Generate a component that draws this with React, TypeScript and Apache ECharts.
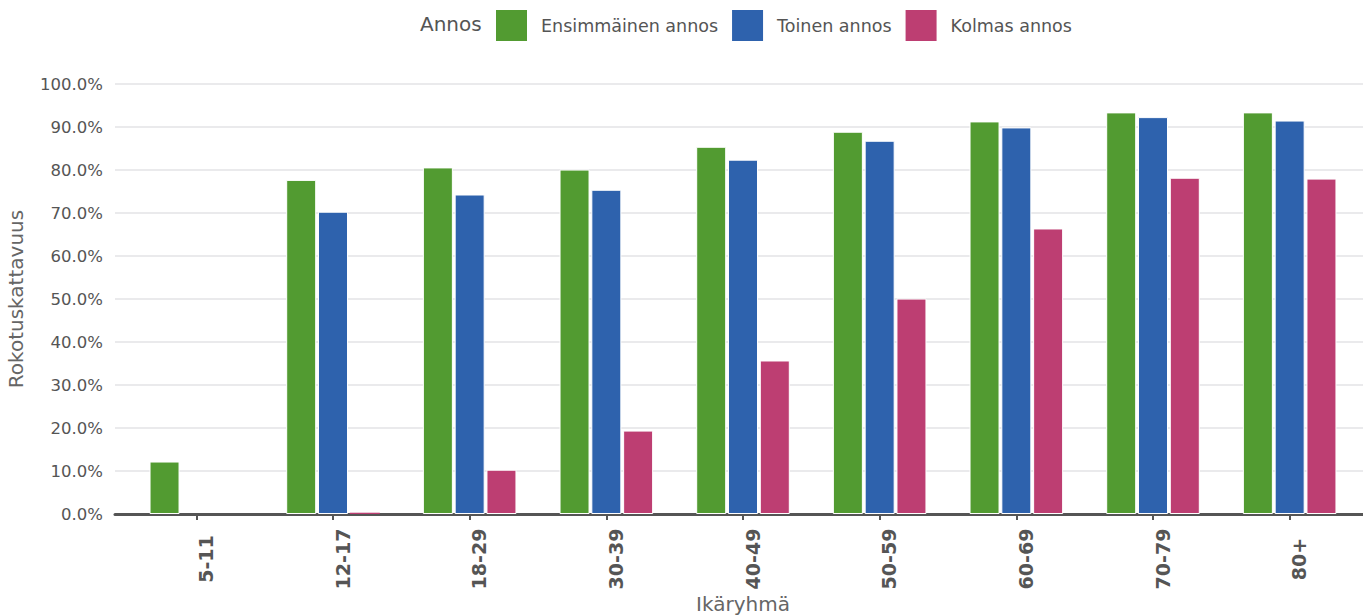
import React, { useEffect, useRef } from "react";
import * as echarts from "echarts";

const categories = ["5-11", "12-17", "18-29", "30-39", "40-49", "50-59", "60-69", "70-79", "80+"];
const firstDose = [12.2, 77.7, 80.6, 80.1, 85.4, 88.9, 91.3, 93.4, 93.4];
const secondDose = [0, 70.3, 74.3, 75.4, 82.4, 86.8, 89.9, 92.3, 91.5];
const thirdDose = [0, 0.3, 10.3, 19.4, 35.7, 50.1, 66.4, 78.2, 78.0];
const seriesNames = ["Ensimmäinen annos", "Toinen annos", "Kolmas annos"];
const colors = ["#529b31", "#2e62ad", "#bd3e72"];

const FONT = "DejaVu Sans";

export default function App() {
  const ref = useRef<HTMLDivElement>(null);
  useEffect(() => {
    if (!ref.current) return;
    const chart = echarts.init(ref.current, null, { renderer: "svg" });
    const yCommon = { type: "value", min: 0, max: 100, interval: 10 };
    const barSeries = [firstDose, secondDose, thirdDose].map((d, i) => ({
      name: seriesNames[i],
      type: "bar",
      xAxisIndex: 1,
      yAxisIndex: 1,
      data: d.map((v) => (v < 1 ? { value: v, itemStyle: { borderWidth: 0 } } : v)),
      barWidth: 30,
      barGap: "6%",
      itemStyle: { color: colors[i], borderColor: "#ffffff", borderWidth: 1 },
    }));
    chart.setOption({
      animation: false,
      textStyle: { fontFamily: FONT },
      legend: {
        data: seriesNames,
        top: 3,
        left: 489,
        itemWidth: 33,
        itemHeight: 33,
        itemGap: 12,
        icon: "rect",
        textStyle: { fontFamily: FONT, fontSize: 17.5, color: "#555", padding: [0, 0, 0, 8] },
      },
      graphic: [
        {
          type: "text",
          left: 420,
          top: 14,
          style: { text: "Annos", fontFamily: FONT, fontSize: 20, fill: "#555" },
        },
      ],
      grid: [
        { left: 115, right: 0, top: 84, bottom: 102, containLabel: false, outerBoundsMode: "none" },
        { left: 128, right: 5, top: 84, bottom: 102, containLabel: false, outerBoundsMode: "none" },
      ],
      xAxis: [
        {
          type: "category",
          gridIndex: 0,
          data: categories,
          axisLine: { show: true, lineStyle: { color: "#555", width: 3 } },
          axisTick: { show: false },
          axisLabel: { show: false },
          splitLine: { show: false },
        },
        {
          type: "category",
          gridIndex: 1,
          data: categories,
          axisLine: { show: false },
          axisTick: { show: true, alignWithLabel: true, length: 6, lineStyle: { color: "#555", width: 2 } },
          axisLabel: {
            rotate: 90,
            margin: 45,
            align: "center",
            verticalAlign: "top",
            fontFamily: FONT,
            fontSize: 19,
            fontWeight: "bold",
            color: "#555",
            interval: 0,
          },
          name: "Ikäryhmä",
          nameLocation: "middle",
          nameGap: 80,
          nameMoveOverlap: false,
          nameTextStyle: { fontFamily: FONT, fontSize: 20, color: "#666", verticalAlign: "top" },
        },
      ],
      yAxis: [
        {
          ...yCommon,
          gridIndex: 0,
          axisLine: { show: false },
          axisTick: { show: false },
          splitLine: { show: true, lineStyle: { color: "#e3e3e6", width: 1.5 } },
          axisLabel: {
            formatter: (v: number) => v.toFixed(1) + "%",
            fontFamily: FONT,
            fontSize: 16.5,
            color: "#555",
            margin: 12,
          },
          name: "Rokotuskattavuus",
          nameLocation: "middle",
          nameGap: 89,
          nameTextStyle: { fontFamily: FONT, fontSize: 20, color: "#666" },
        },
        {
          ...yCommon,
          gridIndex: 1,
          show: false,
          splitLine: { show: false },
        },
      ],
      series: barSeries,
    });
    return () => chart.dispose();
  }, []);
  return (
    <div
      ref={ref}
      style={{ position: "fixed", left: 0, top: 0, width: 1363, height: 616, background: "#fff" }}
    />
  );
}
